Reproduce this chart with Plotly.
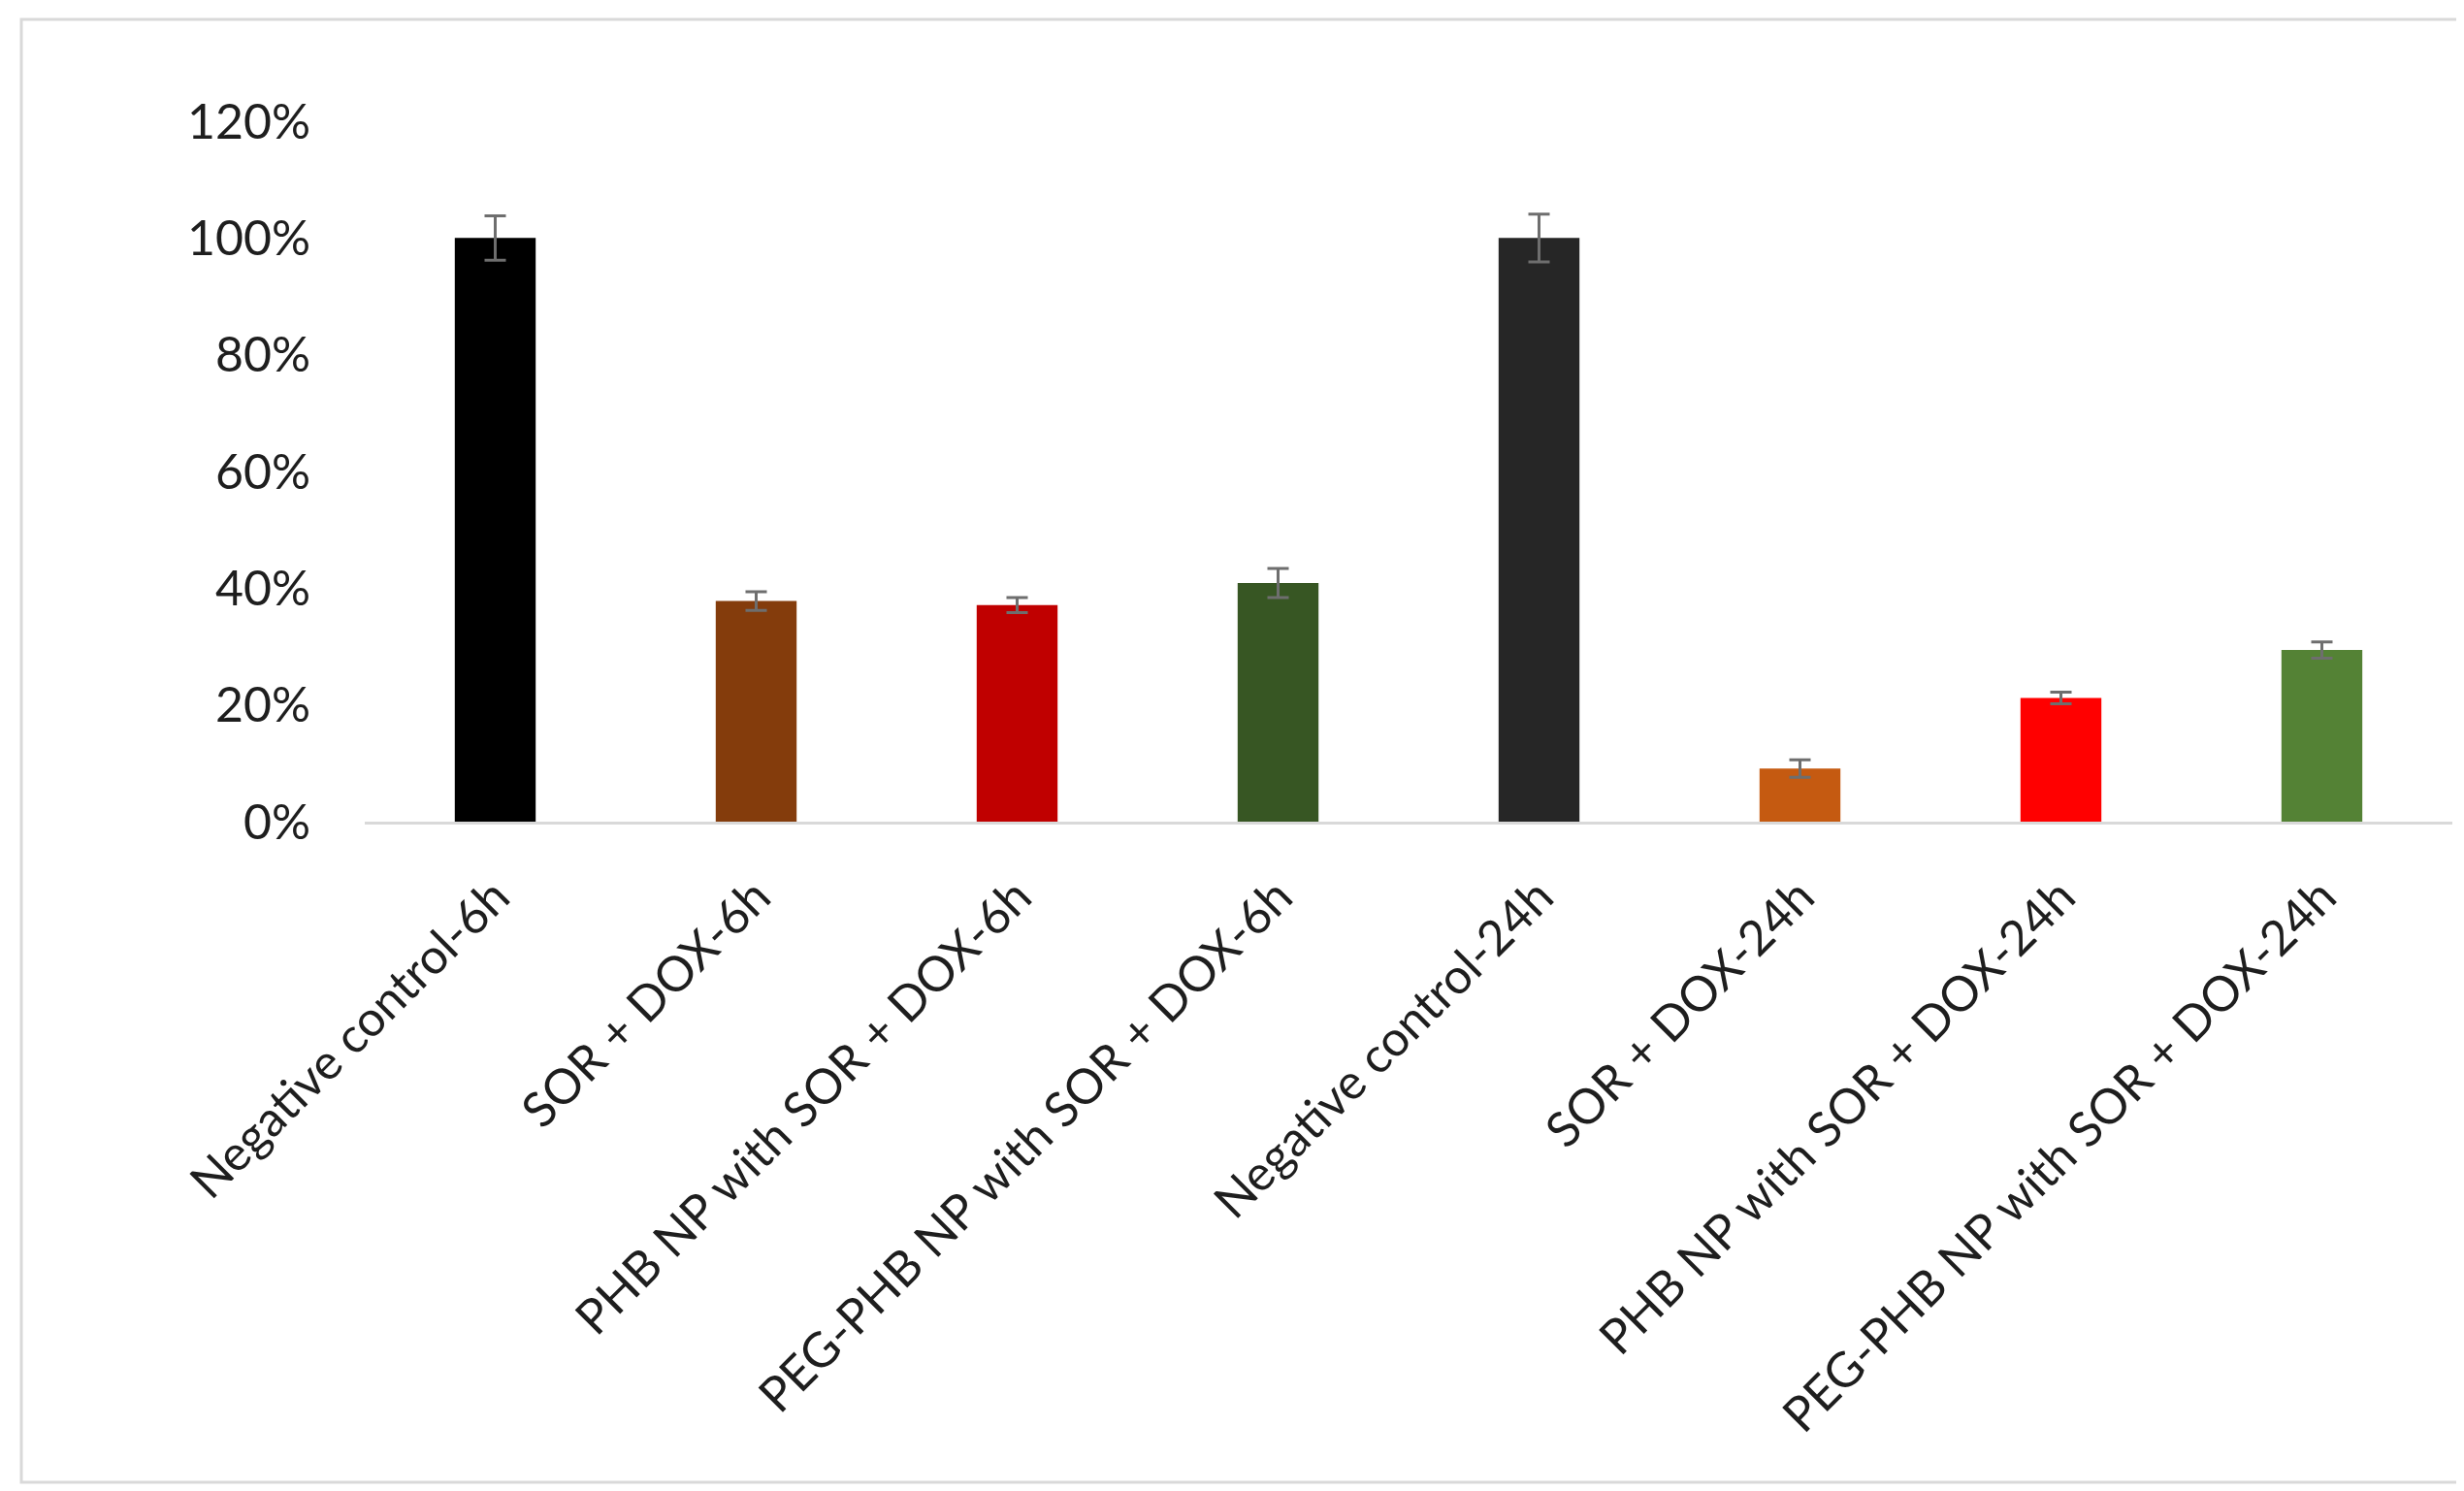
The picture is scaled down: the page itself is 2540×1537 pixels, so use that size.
import plotly.graph_objects as go

categories = [
    "Negative control-6h",
    "SOR + DOX-6h",
    "PHB NP with SOR + DOX-6h",
    "PEG-PHB NP with SOR + DOX-6h",
    "Negative control-24h",
    "SOR + DOX-24h",
    "PHB NP with SOR + DOX-24h",
    "PEG-PHB NP with SOR + DOX-24h",
]
values = [1.00, 0.378, 0.371, 0.409, 1.00, 0.091, 0.212, 0.294]
errors = [0.038, 0.016, 0.013, 0.025, 0.041, 0.015, 0.010, 0.014]
colors = ["#000000", "#843c0c", "#c00000", "#375623",
          "#262626", "#c55a11", "#ff0000", "#548235"]
y_ticks = [0, 0.2, 0.4, 0.6, 0.8, 1.0, 1.2]
y_tick_labels = ["0%", "20%", "40%", "60%", "80%", "100%", "120%"]

W, H = 2540, 1537
L, R, T, B = 368, 2520, 117, 839  # plot area in pixels

fig = go.Figure(go.Bar(
    x=categories, y=values,
    marker=dict(color=colors, line=dict(width=0)),
    width=0.31,
    error_y=dict(type="data", array=errors, visible=True,
                 color="#6e6e6e", thickness=3, width=11),
))

font = dict(family="Lato, 'Open Sans', sans-serif", size=50, color="#1e1e1e")

# outer frame (decoration)
pw, ph = R - L, B - T
fig.add_shape(type="rect", xref="paper", yref="paper",
              x0=(14 - L) / pw, x1=(2529 - L) / pw,
              y0=(B - 1520) / ph, y1=(B - 12) / ph,
              line=dict(color="#d9d9d9", width=3), fillcolor="rgba(0,0,0,0)",
              layer="below")

fig.update_layout(
    width=W, height=H,
    margin=dict(l=L, r=W - R, t=T, b=H - B, autoexpand=False),
    paper_bgcolor="white", plot_bgcolor="white",
    font=font, showlegend=False,
    xaxis=dict(showline=True, linecolor="#d9d9d9", linewidth=3,
               tickangle=-45, ticks="", showgrid=False,
               ticklabelstandoff=25, tickfont=font),
    yaxis=dict(range=[0, 1.2], tickvals=y_ticks, ticktext=y_tick_labels,
               showgrid=False, zeroline=False, showline=False, ticks="",
               ticklabelstandoff=55, tickfont=font),
)

fig.write_html("out.html")
